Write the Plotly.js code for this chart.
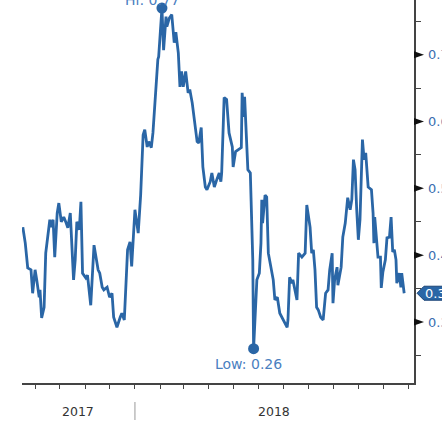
<!DOCTYPE html>
<html>
<head>
<meta charset="utf-8">
<script src="https://cdn.plot.ly/plotly-3.0.1.min.js"></script>
<style>html,body{margin:0;padding:0;background:#fff;}#chart{width:442px;height:422px;}</style>
</head>
<body>
<div id="chart"></div>
<script>
const dates = ['2017-08-17','2017-08-20','2017-08-23','2017-08-27','2017-08-29','2017-09-01','2017-09-03','2017-09-06','2017-09-07','2017-09-09','2017-09-12','2017-09-14','2017-09-19','2017-09-20','2017-09-23','2017-09-25','2017-09-28','2017-09-30','2017-10-03','2017-10-06','2017-10-09','2017-10-11','2017-10-14','2017-10-15','2017-10-18','2017-10-20','2017-10-22','2017-10-25','2017-10-27','2017-10-29','2017-11-02','2017-11-04','2017-11-07','2017-11-08','2017-11-12','2017-11-17','2017-11-19','2017-11-22','2017-11-24','2017-11-28','2017-12-01','2017-12-04','2017-12-06','2017-12-10','2017-12-14','2017-12-16','2017-12-19','2017-12-21','2017-12-23','2017-12-26','2017-12-28','2018-01-01','2018-01-05','2018-01-08','2018-01-11','2018-01-13','2018-01-16','2018-01-18','2018-01-21','2018-01-23','2018-01-25','2018-01-29','2018-01-30','2018-02-02','2018-02-03','2018-02-05','2018-02-08','2018-02-09','2018-02-12','2018-02-15','2018-02-18','2018-02-20','2018-02-23','2018-02-25','2018-02-27','2018-03-01','2018-03-04','2018-03-07','2018-03-09','2018-03-12','2018-03-15','2018-03-18','2018-03-20','2018-03-23','2018-03-25','2018-03-28','2018-03-30','2018-04-03','2018-04-05','2018-04-08','2018-04-11','2018-04-14','2018-04-16','2018-04-17','2018-04-19','2018-04-20','2018-04-23','2018-04-26','2018-04-30','2018-05-01','2018-05-04','2018-05-07','2018-05-11','2018-05-12','2018-05-14','2018-05-15','2018-05-18','2018-05-19','2018-05-22','2018-05-25','2018-05-26','2018-05-29','2018-05-30','2018-06-02','2018-06-04','2018-06-05','2018-06-06','2018-06-09','2018-06-11','2018-06-13','2018-06-17','2018-06-19','2018-06-21','2018-06-24','2018-06-27','2018-07-01','2018-07-06','2018-07-07','2018-07-09','2018-07-12','2018-07-13','2018-07-16','2018-07-18','2018-07-20','2018-07-24','2018-07-28','2018-07-30','2018-08-03','2018-08-05','2018-08-07','2018-08-09','2018-08-11','2018-08-13','2018-08-16','2018-08-19','2018-08-22','2018-08-25','2018-08-27','2018-08-30','2018-08-31','2018-09-02','2018-09-05','2018-09-06','2018-09-10','2018-09-12','2018-09-15','2018-09-17','2018-09-18','2018-09-21','2018-09-23','2018-09-25','2018-09-27','2018-09-29','2018-10-01','2018-10-03','2018-10-06','2018-10-08','2018-10-10','2018-10-13','2018-10-17','2018-10-19','2018-10-20','2018-10-21','2018-10-24','2018-10-25','2018-10-28','2018-10-29','2018-10-31','2018-11-03','2018-11-05','2018-11-08','2018-11-10','2018-11-12','2018-11-14','2018-11-16','2018-11-17','2018-11-20','2018-11-22','2018-11-23','2018-11-26'];

const values = [0.442,0.418,0.381,0.378,0.343,0.378,0.363,0.337,0.348,0.306,0.322,0.403,0.453,0.442,0.453,0.397,0.463,0.478,0.450,0.457,0.448,0.441,0.463,0.442,0.363,0.393,0.450,0.438,0.480,0.373,0.366,0.370,0.333,0.325,0.415,0.378,0.373,0.352,0.348,0.352,0.337,0.343,0.307,0.292,0.307,0.313,0.303,0.363,0.408,0.420,0.383,0.468,0.433,0.490,0.580,0.588,0.562,0.570,0.561,0.583,0.622,0.693,0.697,0.763,0.770,0.707,0.757,0.742,0.755,0.760,0.718,0.734,0.703,0.652,0.675,0.652,0.675,0.643,0.648,0.628,0.598,0.570,0.568,0.591,0.532,0.502,0.498,0.510,0.523,0.502,0.513,0.523,0.510,0.523,0.598,0.636,0.633,0.583,0.562,0.532,0.555,0.558,0.561,0.643,0.607,0.637,0.562,0.528,0.523,0.393,0.260,0.343,0.363,0.373,0.418,0.483,0.448,0.490,0.487,0.403,0.373,0.363,0.333,0.337,0.313,0.303,0.292,0.303,0.367,0.358,0.363,0.345,0.333,0.403,0.397,0.403,0.475,0.442,0.403,0.408,0.378,0.322,0.318,0.307,0.303,0.343,0.348,0.378,0.403,0.328,0.363,0.382,0.355,0.382,0.427,0.448,0.468,0.486,0.468,0.483,0.543,0.528,0.468,0.423,0.453,0.573,0.543,0.553,0.502,0.498,0.463,0.418,0.457,0.412,0.397,0.397,0.351,0.375,0.393,0.426,0.427,0.457,0.405,0.408,0.393,0.358,0.373,0.352,0.373,0.343];

const monthTicks = ['2017-09-01','2017-10-01','2017-11-01','2017-12-01','2018-01-01','2018-02-01','2018-03-01','2018-04-01','2018-05-01','2018-06-01','2018-07-01','2018-08-01','2018-09-01','2018-10-01','2018-11-01','2018-12-01'];
const majorY = [0.3, 0.4, 0.5, 0.6, 0.7];
const majorYLabels = ['0.3', '0.4', '0.5', '0.6', '0.7'];
const minorY = [0.25, 0.35, 0.45, 0.55, 0.65, 0.75];
const yearLabels = ['2017', '2018'];
const yearLabelDates = ['2017-10-24', '2018-06-20'];
const yearBoundary = '2018-01-01';
const xRange = ['2017-08-16', '2018-12-08'];
const yRange = [0.2086, 0.782];

const lineColor = '#2a66a6';
const labelColor = '#4a80bf';
const axisColor = '#444';
const font = 'DejaVu Sans, Verdana, sans-serif';

let hiIdx = 0, loIdx = 0;
values.forEach((v, i) => { if (v > values[hiIdx]) hiIdx = i; if (v < values[loIdx]) loIdx = i; });
const last = values[values.length - 1];

const traces = [
  { x: dates, y: values, type: 'scatter', mode: 'lines', line: { color: lineColor, width: 2.8 }, hoverinfo: 'skip' },
  { x: [dates[hiIdx], dates[loIdx]], y: [values[hiIdx], values[loIdx]], type: 'scatter', mode: 'markers',
    marker: { color: lineColor, size: 11 }, cliponaxis: false, hoverinfo: 'skip' }
];

const shapes = [];
majorY.forEach(v => shapes.push({
  type: 'path', xref: 'paper', xsizemode: 'pixel', xanchor: 1,
  yref: 'y', ysizemode: 'pixel', yanchor: v,
  path: 'M0,3.5 L10,0 L0,-3.5 Z', fillcolor: '#111', line: { width: 0 }, layer: 'above'
}));
shapes.push({
  type: 'path', xref: 'paper', xsizemode: 'pixel', xanchor: 1,
  yref: 'y', ysizemode: 'pixel', yanchor: last,
  path: 'M3,0 L10,7 L60,7 L60,-7 L10,-7 Z', fillcolor: lineColor, line: { color: '#1c4576', width: 1 }, layer: 'above'
});
shapes.push({
  type: 'line', xref: 'x', x0: yearBoundary, x1: yearBoundary,
  yref: 'paper', ysizemode: 'pixel', yanchor: 0, y0: -19, y1: -37,
  line: { color: '#999', width: 1 }
});

const annotations = [
  { x: dates[hiIdx], y: values[hiIdx], xref: 'x', yref: 'y', text: 'Hi: ' + values[hiIdx].toFixed(2), showarrow: false,
    yanchor: 'bottom', yshift: -2, xshift: -9, font: { family: font, size: 14, color: labelColor } },
  { x: dates[loIdx], y: values[loIdx], xref: 'x', yref: 'y', text: 'Low: ' + values[loIdx].toFixed(2), showarrow: false,
    yanchor: 'top', yshift: -5, xshift: -5, font: { family: font, size: 14, color: labelColor } },
  { x: 1, y: last, xref: 'paper', yref: 'y', text: last.toFixed(2), showarrow: false, xanchor: 'left', xshift: 9,
    font: { family: font, size: 13, color: '#fff' } }
];
yearLabels.forEach((t, i) => annotations.push({
  x: yearLabelDates[i], y: 0, xref: 'x', yref: 'paper', text: t, showarrow: false, yanchor: 'middle', yshift: -28,
  font: { family: font, size: 12.5, color: '#333' }
}));

const layout = {
  width: 442, height: 422,
  margin: { l: 22, r: 28, t: 0, b: 39 },
  paper_bgcolor: '#fff', plot_bgcolor: '#fff',
  showlegend: false,
  xaxis: {
    type: 'date', range: xRange, showgrid: false, zeroline: false,
    showline: true, linecolor: axisColor, linewidth: 1.5,
    ticks: 'outside', ticklen: 4, tickcolor: axisColor, tickwidth: 1,
    tickvals: monthTicks, showticklabels: false
  },
  yaxis: {
    side: 'right', range: yRange, showgrid: false, zeroline: false,
    showline: true, linecolor: axisColor, linewidth: 1.5,
    tickvals: majorY, ticktext: majorYLabels, ticks: '', ticklabelstandoff: 10,
    tickfont: { family: font, size: 13, color: '#3a6fb0' },
    minor: { tickvals: minorY, ticks: 'outside', ticklen: 5, tickcolor: axisColor, tickwidth: 1 }
  },
  shapes: shapes,
  annotations: annotations
};

Plotly.newPlot('chart', traces, layout, { staticPlot: true });
</script>
</body>
</html>
